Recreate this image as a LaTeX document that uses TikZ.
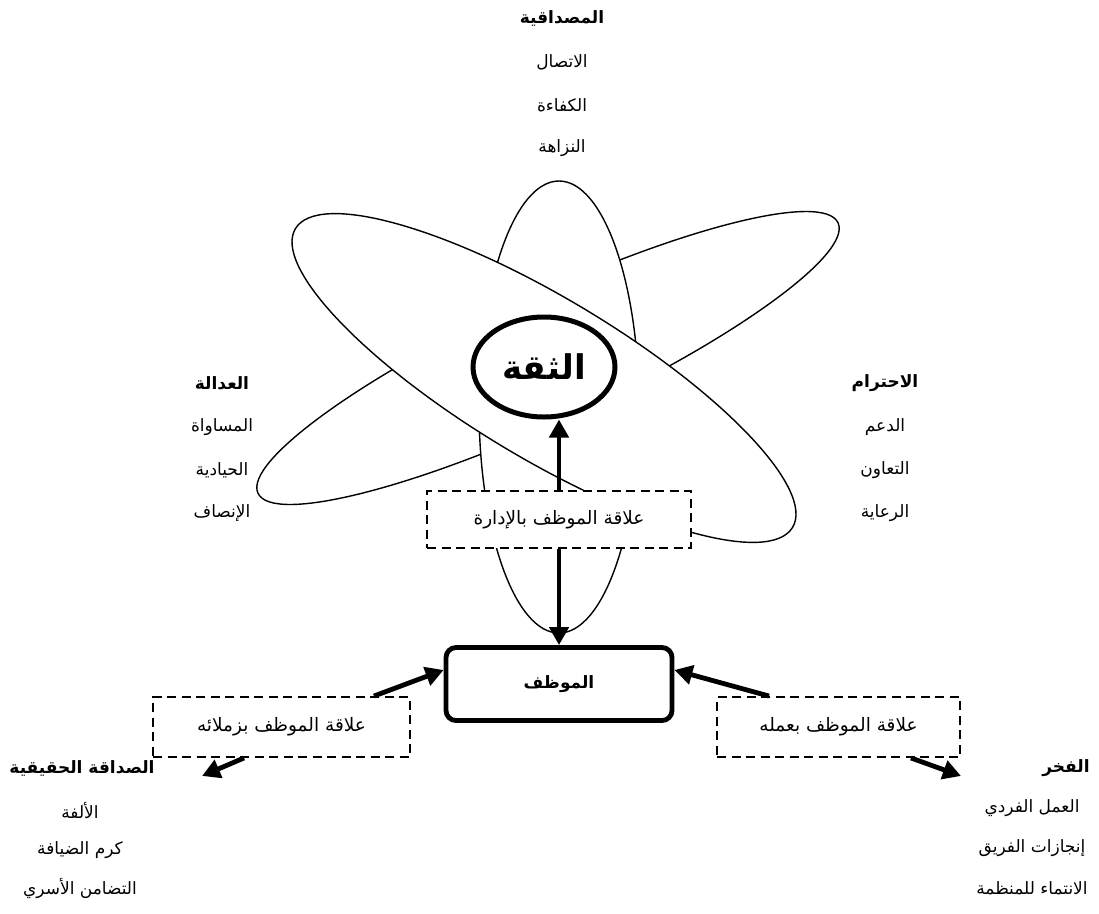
\documentclass[tikz,border=0pt]{standalone}
\usepackage{fontspec}
\usetikzlibrary{shapes.geometric,arrows.meta,calc}
\newfontfamily\arabicfont[Script=Arabic]{DejaVu Sans}
\TeXXeTstate=1
\newcommand{\rtl}[1]{\beginR #1\endR}

\begin{document}
\begin{tikzpicture}[x=1pt,y=-1pt,
  orbit/.style={draw, line width=1.4pt, fill=white},
  lbl/.style={inner sep=0pt, font=\arabicfont\fontsize{17}{20}\selectfont},
  lblb/.style={inner sep=0pt, font=\arabicfont\bfseries\fontsize{17}{20}\selectfont},
  relbox/.style={draw, line width=1.9pt, dash pattern=on 9pt off 5.5pt, fill=white,
    inner sep=0pt, font=\arabicfont\fontsize{18.5}{22}\selectfont},
  heavy/.style={line width=4.8pt, -{Triangle[length=18pt,width=19pt]}},
]
\useasboundingbox (0,0) rectangle (1099,913);

% three crossing orbits, back to front
\draw[orbit, rotate around={25:(548,358)}] (548,358) ellipse [x radius=320, y radius=62];
\draw[orbit] (559,407) ellipse [x radius=80, y radius=226];
\draw[orbit, rotate around={-31:(544,378)}] (544,378) ellipse [x radius=290, y radius=80];

% core and boxes
\node[ellipse, draw, line width=5pt, fill=white, minimum width=142, minimum height=100,
      inner sep=0pt, font=\arabicfont\bfseries\fontsize{34}{38}\selectfont]
      (trust) at (544,367) {\rtl{الثقة}};
\node[relbox, minimum width=264, minimum height=57] (mbox) at (559,519.5)
      {\rtl{علاقة الموظف بالإدارة}};
\node[draw, rounded corners=10pt, line width=4.8pt, fill=white, minimum width=226,
      minimum height=73, inner sep=0pt,
      font=\arabicfont\bfseries\fontsize{17}{20}\selectfont]
      (emp) at (559,684) {\rtl{الموظف}};
\node[relbox, minimum width=257, minimum height=60] (lbox) at (281.5,727)
      {\rtl{علاقة الموظف بزملائه}};
\node[relbox, minimum width=243, minimum height=60] (rbox) at (838.5,727)
      {\rtl{علاقة الموظف بعمله}};

% arrow anchors
\coordinate (lb-in)  at ($(lbox.north east)+(-37,0)$);
\coordinate (lb-out) at ($(lbox.south west)+(92,0)$);
\coordinate (lb-end) at ($(lbox.south west)+(50,18)$);
\coordinate (rb-in)  at ($(rbox.north west)+(53,0)$);
\coordinate (rb-out) at ($(rbox.south east)+(-50,0)$);
\coordinate (rb-end) at ($(rbox.south east)+(0,18)$);
\coordinate (emp-l)  at ($(emp.west)+(0,-14)$);
\coordinate (emp-r)  at ($(emp.east)+(0,-14)$);

\draw[heavy] (mbox.north) -- (mbox.north |- trust.south);
\draw[heavy] (mbox.south) -- (emp.north);
\draw[heavy] (lb-in) -- (emp-l);
\draw[heavy] (lb-out) -- (lb-end);
\draw[heavy] (rb-in) -- (emp-r);
\draw[heavy] (rb-out) -- (rb-end);

% value lists
\node[lblb] (c0) at (562,18)  {\rtl{المصداقية}};
\node[lbl]  (c1) at (562,62)  {\rtl{الاتصال}};
\node[lbl]  (c2) at (562,105) {\rtl{الكفاءة}};
\node[lbl]  (c3) at (562,148) {\rtl{النزاهة}};

\node[lblb] (j0) at (222,383) {\rtl{العدالة}};
\node[lbl]  (j1) at (222,427) {\rtl{المساواة}};
\node[lbl]  (j2) at (222,470) {\rtl{الحيادية}};
\node[lbl]  (j3) at (222,513) {\rtl{الإنصاف}};

\node[lblb] (r0) at (885,383) {\rtl{الاحترام}};
\node[lbl]  (r1) at (885,427) {\rtl{الدعم}};
\node[lbl]  (r2) at (885,470) {\rtl{التعاون}};
\node[lbl]  (r3) at (885,513) {\rtl{الرعاية}};

\node[lblb] (f0) at (82,768)  {\rtl{الصداقة الحقيقية}};
\node[lbl]  (f1) at (80,810)  {\rtl{الألفة}};
\node[lbl]  (f2) at (80,850)  {\rtl{كرم الضيافة}};
\node[lbl]  (f3) at (80,888)  {\rtl{التضامن الأسري}};

\node[lblb] (p0) at (1066,768) {\rtl{الفخر}};
\node[lbl]  (p1) at (1032,808) {\rtl{العمل الفردي}};
\node[lbl]  (p2) at (1032,848) {\rtl{إنجازات الفريق}};
\node[lbl]  (p3) at (1032,888) {\rtl{الانتماء للمنظمة}};
\end{tikzpicture}
\end{document}
